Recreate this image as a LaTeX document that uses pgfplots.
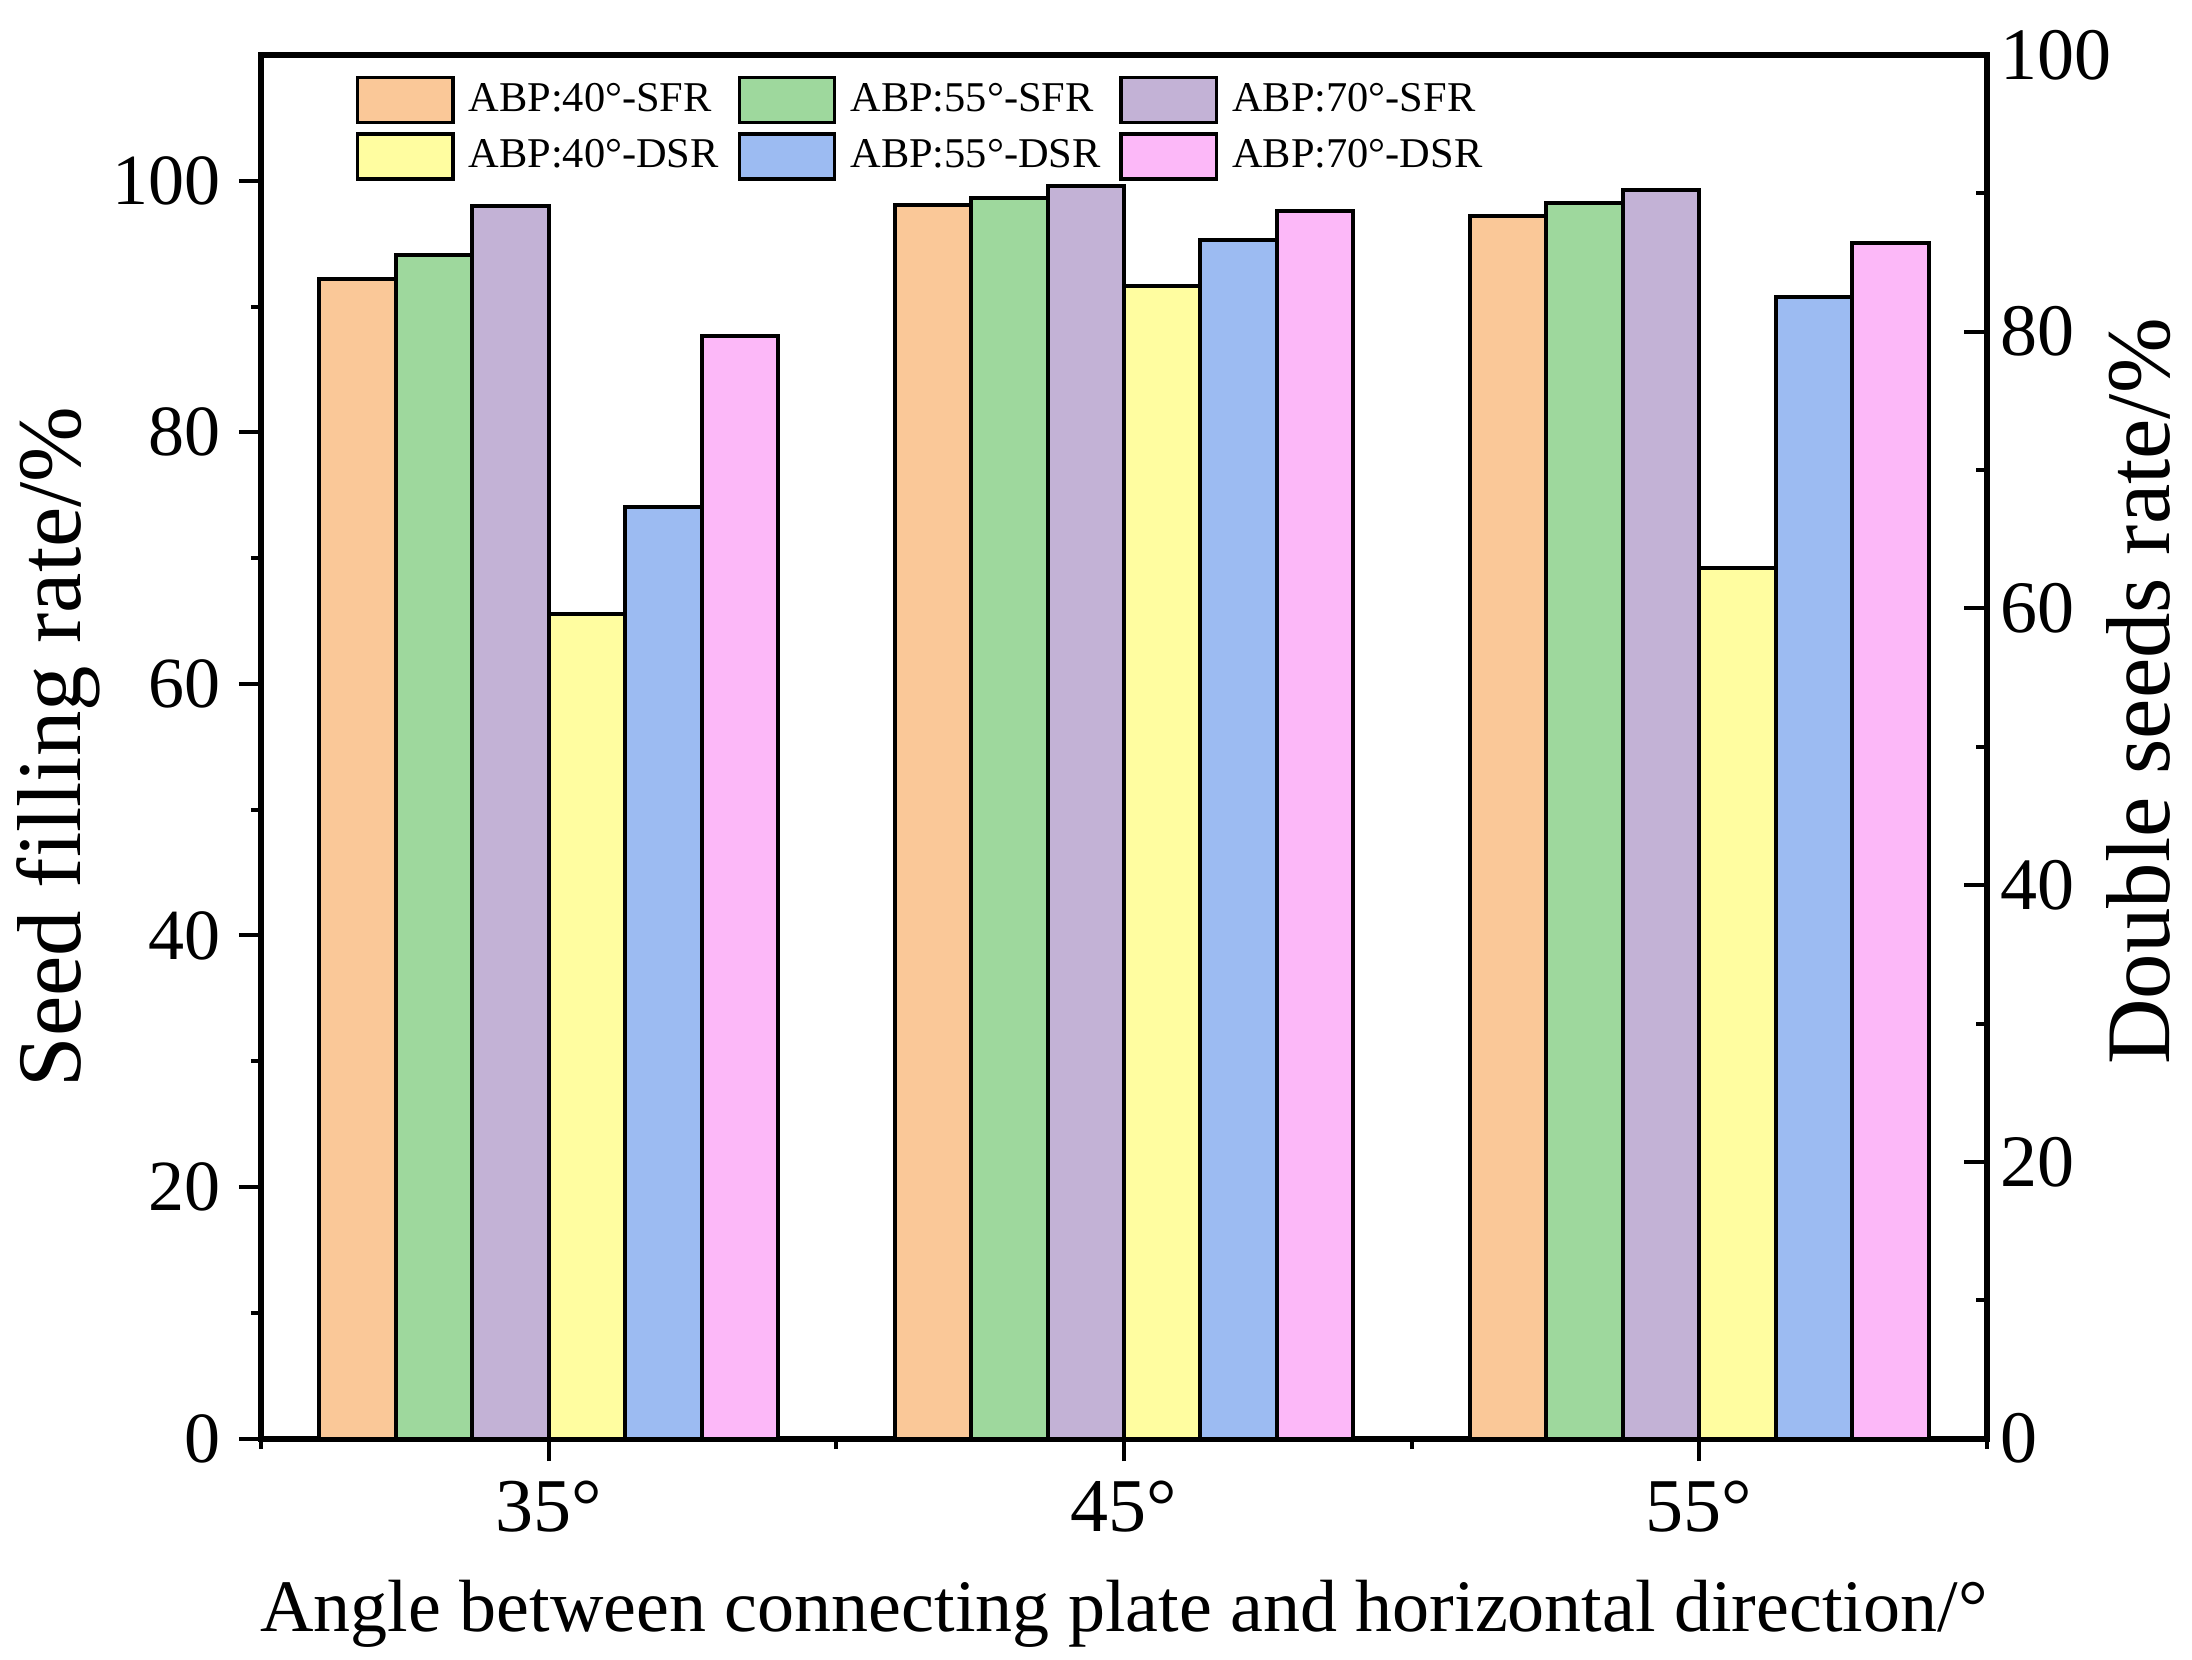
\documentclass[border=0pt]{standalone}
\usepackage{fontspec}
\setmainfont{Liberation Serif}
\usepackage{pgfplots}
\pgfplotsset{compat=1.18}
\definecolor{c1}{HTML}{FAC898}
\definecolor{c2}{HTML}{9ED89D}
\definecolor{c3}{HTML}{C3B2D6}
\definecolor{c4}{HTML}{FFFDA0}
\definecolor{c5}{HTML}{9CBBF2}
\definecolor{c6}{HTML}{FCB8F8}
\pgfplotsset{
  myleg/.style={legend image code/.code={\draw[##1,line width=0.9pt] (0pt,-5.6pt) rectangle (23.8pt,5.6pt);}},
  mybar/.style={ybar, bar width=0.133, draw=black, line width=1pt, fill=#1},
  common/.style={
    at={(0,0)}, anchor=south west,
    scale only axis, width=431.3pt, height=345.9pt,
    xmin=-0.5, xmax=2.5,
    axis line style={line width=1.5pt},
    major tick length=5.6pt, minor tick length=2.6pt,
    every tick/.style={black, line width=1pt},
    yticklabel style={font=\fontsize{18}{21}\selectfont},
    xticklabel style={font=\fontsize{19}{22}\selectfont, yshift=-1.4pt},
    /pgf/number format/assume math mode=true,
  },
}
\begin{document}
\begin{tikzpicture}
\begin{axis}[common,
  ymin=0, ymax=110,
  tick pos=left, tick align=outside,
  xtick={0,1,2}, xticklabels={35°,45°,55°},
  minor xtick={-0.5,0.5,1.5,2.5},
  ytick={0,20,...,100}, minor ytick={10,30,...,90},
  yticklabel style={xshift=-1pt},
  xlabel={Angle between connecting plate and horizontal direction/°},
  xlabel style={font=\fontsize{18.5}{22}\selectfont, at={(axis description cs:0.5,-0.1396)}, anchor=base},
  ylabel={Seed filling rate/\%},
  ylabel style={font=\fontsize{22.7}{27}\selectfont, at={(axis description cs:-0.1051,0.5)}, anchor=base, rotate=0},
]
\addplot[mybar=c1, bar shift=-0.3325] coordinates {(0,92.2) (1,98.1) (2,97.2)};
\addplot[mybar=c2, bar shift=-0.1995] coordinates {(0,94.1) (1,98.6) (2,98.2)};
\addplot[mybar=c3, bar shift=-0.0665] coordinates {(0,98.0) (1,99.6) (2,99.3)};
\end{axis}
\begin{axis}[common,
  ymin=0, ymax=100,
  axis x line=none, axis y line*=right,
  tick align=inside,
  ytick={0,20,...,100}, minor ytick={10,30,...,90},
  yticklabel style={font=\fontsize{18.5}{21}\selectfont},
  ylabel={Double seeds rate/\%},
  ylabel style={font=\fontsize{22.7}{27}\selectfont, at={(axis description cs:1.1062,0.54)}, anchor=base, rotate=0},
  legend columns=3,
  legend cell align=left,
  legend style={draw=none, fill=none, inner sep=0pt,
    font=\fontsize{10.6}{12}\selectfont,
    at={(axis description cs:0,1)}, anchor=north west,
    xshift=23.4pt, yshift=-5pt,
    nodes={inner xsep=3.5pt, inner ysep=0.5pt},
    row sep=2pt,
    /tikz/every even column/.append style={column sep=1.2pt}},
]
\addlegendimage{myleg, fill=c1, draw=black}
\addlegendentry{ABP:40°-SFR}
\addlegendimage{myleg, fill=c2, draw=black}
\addlegendentry{ABP:55°-SFR}
\addlegendimage{myleg, fill=c3, draw=black}
\addlegendentry{ABP:70°-SFR}
\addplot[mybar=c4, bar shift=0.0665, myleg] coordinates {(0,59.6) (1,83.3) (2,62.9)};
\addlegendentry{ABP:40°-DSR}
\addplot[mybar=c5, bar shift=0.1995, myleg] coordinates {(0,67.3) (1,86.6) (2,82.5)};
\addlegendentry{ABP:55°-DSR}
\addplot[mybar=c6, bar shift=0.3325, myleg] coordinates {(0,79.7) (1,88.7) (2,86.4)};
\addlegendentry{ABP:70°-DSR}
\end{axis}
\pgfresetboundingbox
\path[use as bounding box] (-65.35pt,-55.1pt) rectangle (482.65pt,359.65pt);
\end{tikzpicture}
\end{document}
